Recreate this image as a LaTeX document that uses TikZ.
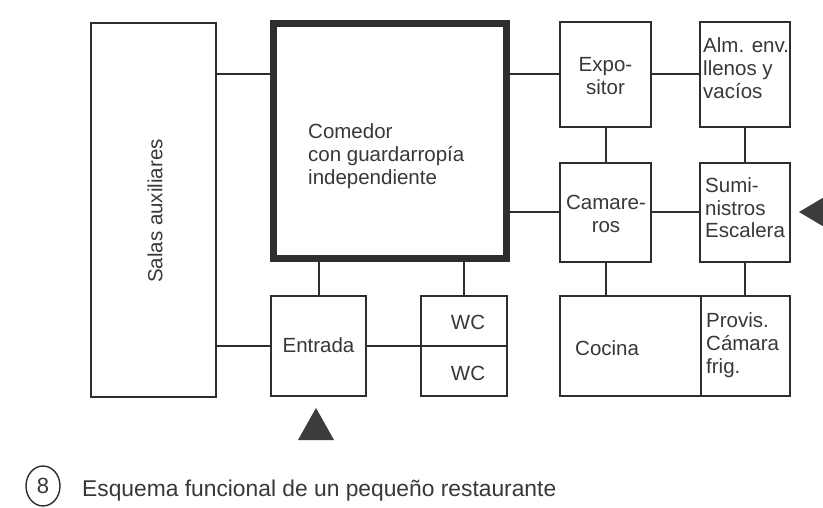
\documentclass[tikz,border=0pt]{standalone}
\usepackage{fontspec}
\setmainfont{Liberation Sans}
\definecolor{linec}{HTML}{2E2E2E}
\definecolor{textc}{HTML}{383838}
\definecolor{tric}{HTML}{3C3C3C}
\begin{document}
\begin{tikzpicture}[x=1pt,y=-1pt,
  box/.style={draw=linec, line width=2pt, inner sep=0pt, outer sep=0pt},
  conn/.style={draw=linec, line width=2pt},
  lbl/.style={text=textc, inner sep=0pt, font=\fontsize{20.5}{23}\selectfont, align=left},
  clbl/.style={lbl, align=center},
  tri/.style={fill=tric}
]
\fill[white] (0,0) rectangle (823,508);
\useasboundingbox (0,0) rectangle (823,508);

% boxes
\node[box, minimum width=125pt, minimum height=374pt] (salas) at (153.5,210) {};
\node[box, line width=7pt, minimum width=233pt, minimum height=235pt] (comedor) at (389.5,141.5) {};
\node[box, minimum width=95pt, minimum height=100pt] (entrada) at (318.5,346) {};
\node[box, minimum width=86pt, minimum height=50pt] (wca) at (464,321) {};
\node[box, minimum width=86pt, minimum height=50pt] (wcb) at (464,371) {};
\node[box, minimum width=91pt, minimum height=105pt] (expo) at (605.5,74.5) {};
\node[box, minimum width=90pt, minimum height=105pt] (alm) at (744.5,74.5) {};
\node[box, minimum width=91pt, minimum height=99pt] (cam) at (605.5,212.5) {};
\node[box, minimum width=90pt, minimum height=99pt] (sumin) at (744.5,212.5) {};
\node[box, minimum width=141pt, minimum height=100pt] (cocina) at (630.5,346) {};
\node[box, minimum width=89pt, minimum height=100pt] (provis) at (745.5,346) {};

% texts (base anchor = baseline of the last line)
\node[lbl, rotate=90] at (155,211) {Salas auxiliares};
\node[lbl, anchor=base west] at (308,185) {Comedor\\con guardarropía\\independiente};
\node[lbl, anchor=base] at (318.5,352) {Entrada};
\node[lbl, anchor=base] at (468,330) {WC};
\node[lbl, anchor=base] at (468,380) {WC};
\node[clbl, anchor=base] at (605.5,95) {Expo-\\sitor};
\node[lbl, anchor=base west] at (703,99) {Alm. env.\\llenos y\\vacíos};
\node[clbl, anchor=base] at (606,233) {Camare-\\ros};
\node[lbl, anchor=base west] at (705,238) {Sumi-\\nistros\\Escalera};
\node[lbl, anchor=base west] at (575,355) {Cocina};
\node[lbl, anchor=base west] at (706,373) {Provis.\\Cámara\\frig.};

% connectors
\draw[conn] (salas.east |- expo.center) -- (comedor.west |- expo.center);
\draw[conn] (salas.east |- entrada.center) -- (entrada.west);
\draw[conn] (entrada.north) -- (entrada.north |- comedor.south);
\draw[conn] (wca.north) -- (wca.north |- comedor.south);
\draw[conn] (entrada.east) -- (wca.south west);
\draw[conn] (comedor.east |- expo.center) -- (expo.west);
\draw[conn] (comedor.east |- cam.center) -- (cam.west);
\draw[conn] (expo.east) -- (alm.west);
\draw[conn] (expo.south) -- (cam.north);
\draw[conn] (alm.south) -- (sumin.north);
\draw[conn] (cam.east) -- (sumin.west);
\draw[conn] (cam.south) -- (cam.south |- cocina.north);
\draw[conn] (sumin.south) -- (sumin.south |- provis.north);

% access arrows
\fill[tri] (298,440) -- (316,408) -- (334,440) -- cycle;
\fill[tri] (826,196) -- (799,212) -- (826,228) -- cycle;

% caption
\draw[linec, line width=1.4pt] (43,486) ellipse (17 and 20);
\node[lbl, font=\fontsize{22}{24}\selectfont] (num) at (43,486) {8};
\node[lbl, anchor=base west, font=\fontsize{22.8}{24}\selectfont] (cap) at (82,496) {Esquema funcional de un pequeño restaurante};
\end{tikzpicture}
\end{document}
